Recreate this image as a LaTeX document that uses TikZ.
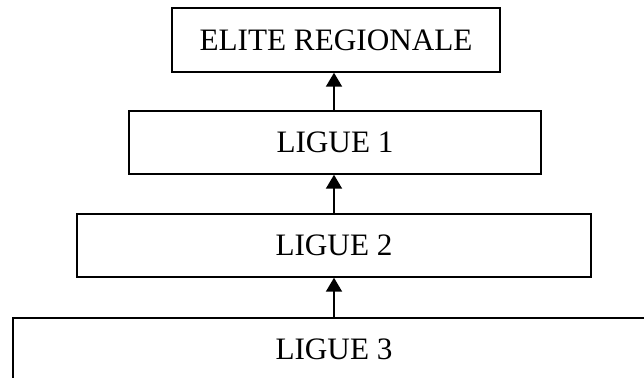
\documentclass[tikz,border=0pt]{standalone}
\usepackage{fontspec}
\setmainfont{Liberation Serif}
\usetikzlibrary{arrows.meta,positioning}
\tikzset{
  niveau/.style={draw, line width=0.75pt, inner sep=0pt, minimum height=31.5pt,
    font=\fontsize{15.6}{18}\selectfont},
  monte/.style={line width=1pt, -{Triangle[width=8pt,length=7pt]}}
}
\begin{document}
\begin{tikzpicture}[x=0.5pt,y=-0.5pt]
\pgfmathsetmacro{\hauteur}{31.5}
\clip (0,0) rectangle (644,378);
\node[niveau, minimum width=164pt, minimum height=32pt] (elite) at (336,40) {ELITE REGIONALE};
\node[niveau, minimum width=206pt] (ligue1) at (335,142.5) {LIGUE 1};
\node[niveau, minimum width=257pt] (ligue2) at (334,245.5) {LIGUE 2};
\node[niveau, minimum width=321pt] (ligue3) at (334,349.5) {LIGUE 3};
\draw[monte] (ligue3.north) -- (ligue3.north |- ligue2.south);
\draw[monte] (ligue2.north) -- (ligue2.north |- ligue1.south);
\draw[monte] (ligue1.north -| ligue2.north) -- (ligue2.north |- elite.south);
\end{tikzpicture}
\end{document}
